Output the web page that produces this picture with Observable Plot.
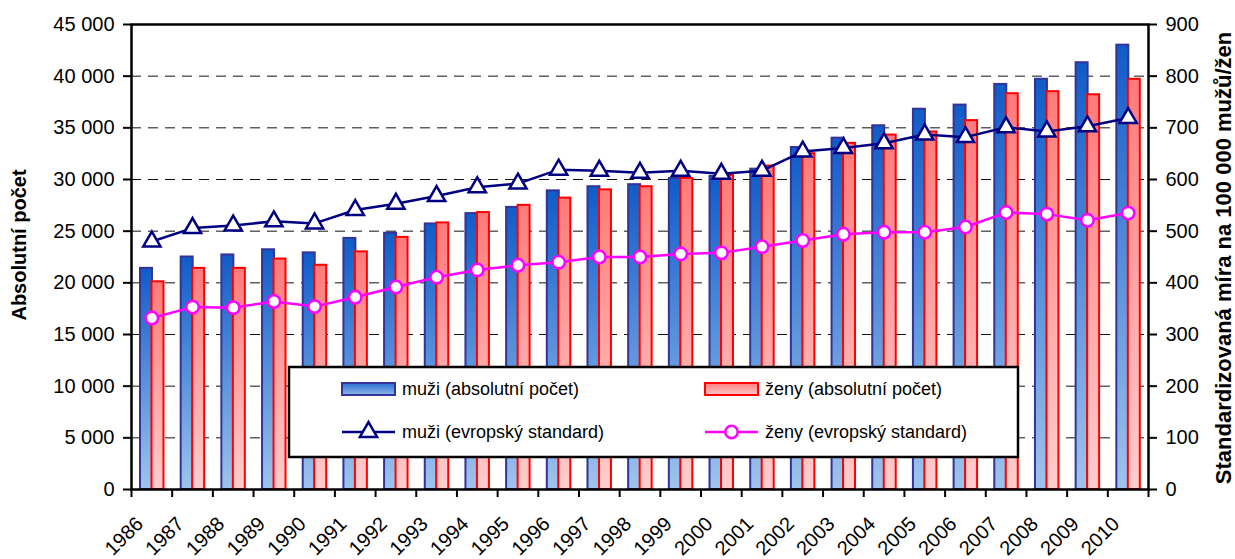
<!DOCTYPE html>
<html>
<head>
<meta charset="utf-8">
<script src="https://cdn.jsdelivr.net/npm/d3@7"></script>
<script src="https://cdn.jsdelivr.net/npm/@observablehq/plot@0.6"></script>
<style>
  body { margin: 0; background: #fff; }
  #wrap { position: relative; width: 1235px; height: 559px; }
  #legend { position: absolute; left: 0; top: 0; pointer-events: none; }
</style>
</head>
<body>
<div id="wrap"></div>
<script>
// ---- data ----
const years = [1986,1987,1988,1989,1990,1991,1992,1993,1994,1995,1996,1997,1998,1999,2000,2001,2002,2003,2004,2005,2006,2007,2008,2009,2010];
const muziAbs = [21400,22500,22700,23200,22900,24300,24800,25700,26700,27300,28900,29300,29500,30100,30300,31000,33100,34000,35200,36800,37200,39200,39700,41300,43000];
const zenyAbs = [20100,21400,21400,22300,21700,23000,24400,25800,26800,27500,28200,29000,29300,30100,30400,31300,32500,33500,34300,34600,35700,38300,38500,38200,39700];
const muziStd = [480,506,511,519,515,541,553,568,585,592,619,617,613,617,611,617,654,661,670,687,682,701,693,703,719];
const zenyStd = [332,353,352,364,354,372,392,411,425,434,440,450,450,456,458,470,482,494,498,498,508,536,533,521,535];
const leftTicks = [0,5000,10000,15000,20000,25000,30000,35000,40000,45000];
const rightTicks = [0,100,200,300,400,500,600,700,800,900];
const leftLabel = "Absolutní počet";
const rightLabel = "Standardizovaná míra na 100 000 mužů/žen";
const legendLabels = ["muži (absolutní počet)", "ženy (absolutní počet)", "muži (evropský standard)", "ženy (evropský standard)"];

const FONT = "'Liberation Sans', Arial, sans-serif";
const RATIO = 45000 / 900; // right axis units -> left axis units
const rows = years.map((y, i) => ({year: String(y), muziAbs: muziAbs[i], zenyAbs: zenyAbs[i], muziStd: muziStd[i], zenyStd: zenyStd[i]}));
const fmt = d => d3.format(",")(d).replace(/,/g, "\u00a0");

const W = 1235, H = 559, mL = 131, mR = 87, mT = 24, mB = 70;
const bandW = (W - mL - mR) / years.length;

const BLUE_LINE = "#000080", PINK = "#ff00ff", BAR_BLUE_STROKE = "#33339a", BAR_RED_STROKE = "#ff0000";

const chart = Plot.plot({
  width: W, height: H,
  marginLeft: mL, marginRight: mR, marginTop: mT, marginBottom: mB,
  style: {fontFamily: FONT, fontSize: "20px", color: "#000", background: "transparent"},
  x: {type: "band", domain: years.map(String), padding: 0, round: false, axis: null},
  y: {domain: [0, 45000], axis: null},
  marks: [
    Plot.gridY(leftTicks.filter(d => d > 0 && d < 45000), {stroke: "#111", strokeOpacity: 1, strokeWidth: 1, strokeDasharray: "10,7"}),
    Plot.barY(rows, {x: "year", y: "muziAbs", fill: "url(#gradBlue)", stroke: BAR_BLUE_STROKE, strokeWidth: 2, insetLeft: 9, insetRight: 19.7}),
    Plot.barY(rows, {x: "year", y: "zenyAbs", fill: "url(#gradRed)", stroke: BAR_RED_STROKE, strokeWidth: 2, insetLeft: 20.5, insetRight: 8.2}),
    Plot.line(rows, {x: "year", y: d => d.muziStd * RATIO, stroke: BLUE_LINE, strokeWidth: 2.5}),
    Plot.dot(rows, {x: "year", y: d => d.muziStd * RATIO, symbol: "triangle", r: 6.4, fill: "white", stroke: BLUE_LINE, strokeWidth: 2.5}),
    Plot.line(rows, {x: "year", y: d => d.zenyStd * RATIO, stroke: PINK, strokeWidth: 2.5}),
    Plot.dot(rows, {x: "year", y: d => d.zenyStd * RATIO, symbol: "circle", r: 6.2, fill: "white", stroke: PINK, strokeWidth: 2.5}),
    Plot.frame({stroke: "#000", strokeWidth: 2.5}),
    Plot.axisY({ticks: leftTicks, tickFormat: fmt, tickSize: 8, tickPadding: 9, strokeWidth: 2, label: null}),
    Plot.axisY({anchor: "right", ticks: rightTicks.map(d => d * RATIO), tickFormat: d => fmt(d / RATIO), tickSize: 8, tickPadding: 9, strokeWidth: 2, label: null}),
    Plot.axisX({tickSize: 8, tickFormat: () => "", dx: -bandW / 2, strokeWidth: 2, label: null}),
    Plot.axisX({ticks: [years[years.length - 1].toString()], tickSize: 8, tickFormat: () => "", dx: bandW / 2, strokeWidth: 2, label: null}),
    Plot.axisX({tickSize: 0, tickPadding: 31, tickRotate: -45, dx: -12, fontSize: 20, label: null}),
    Plot.text([leftLabel], {text: d => d, frameAnchor: "left", textAnchor: "middle", lineAnchor: "middle", rotate: -90, dx: -112, dy: -12, fontWeight: "bold", fontSize: 20}),
    Plot.text([rightLabel], {text: d => d, frameAnchor: "right", textAnchor: "middle", lineAnchor: "middle", rotate: -90, dx: 75, dy: 1, fontWeight: "bold", fontSize: 22})
  ]
});

// gradients for bars
const svg = d3.select(chart);
const defs = svg.insert("defs", ":first-child");
function grad(sel, id, top, bottom) {
  const g = sel.append("linearGradient").attr("id", id).attr("x1", 0).attr("y1", 0).attr("x2", 0).attr("y2", 1);
  g.append("stop").attr("offset", "0%").attr("stop-color", top);
  g.append("stop").attr("offset", "100%").attr("stop-color", bottom);
}
grad(defs, "gradBlue", "#0f5cc8", "#9ec4ec");
grad(defs, "gradRed", "#ff7a7a", "#ffcdcd");

const wrap = document.getElementById("wrap");
wrap.appendChild(chart);

// legend (overlay box inside the plot area)
const lg = d3.select(wrap).append("svg").attr("id", "legend").attr("width", W).attr("height", H)
  .style("font-family", FONT).style("font-size", "18px");
const lgDefs = lg.append("defs");
grad(lgDefs, "lgBlue", "#2a6ccf", "#8fb8e8");
grad(lgDefs, "lgRed", "#ff8080", "#ffc4c4");
lg.append("rect").attr("x", 289).attr("y", 367).attr("width", 729).attr("height", 90)
  .attr("fill", "#fff").attr("stroke", "#000").attr("stroke-width", 2.5);
const cols = [342, 705], rowsY = [389, 432], sw = 53;
lg.append("rect").attr("x", cols[0]).attr("y", rowsY[0] - 6).attr("width", sw).attr("height", 12)
  .attr("fill", "url(#lgBlue)").attr("stroke", BAR_BLUE_STROKE).attr("stroke-width", 2);
lg.append("rect").attr("x", cols[1]).attr("y", rowsY[0] - 6).attr("width", sw).attr("height", 12)
  .attr("fill", "url(#lgRed)").attr("stroke", BAR_RED_STROKE).attr("stroke-width", 2);
lg.append("line").attr("x1", cols[0]).attr("x2", cols[0] + sw).attr("y1", rowsY[1]).attr("y2", rowsY[1]).attr("stroke", BLUE_LINE).attr("stroke-width", 2.5);
lg.append("path").attr("transform", `translate(${cols[0] + sw / 2},${rowsY[1]})`)
  .attr("d", d3.symbol(d3.symbolTriangle, Math.PI * 6.4 * 6.4)()).attr("fill", "#fff").attr("stroke", BLUE_LINE).attr("stroke-width", 2.5);
lg.append("line").attr("x1", cols[1]).attr("x2", cols[1] + sw).attr("y1", rowsY[1]).attr("y2", rowsY[1]).attr("stroke", PINK).attr("stroke-width", 2.5);
lg.append("circle").attr("cx", cols[1] + sw / 2).attr("cy", rowsY[1]).attr("r", 6.2).attr("fill", "#fff").attr("stroke", PINK).attr("stroke-width", 2.5);
[[cols[0], rowsY[0], legendLabels[0]], [cols[1], rowsY[0], legendLabels[1]], [cols[0], rowsY[1], legendLabels[2]], [cols[1], rowsY[1], legendLabels[3]]]
  .forEach(([x, y, t]) => lg.append("text").attr("x", x + sw + 7).attr("y", y).attr("dy", "0.35em").attr("fill", "#000").text(t));
</script>
</body>
</html>
